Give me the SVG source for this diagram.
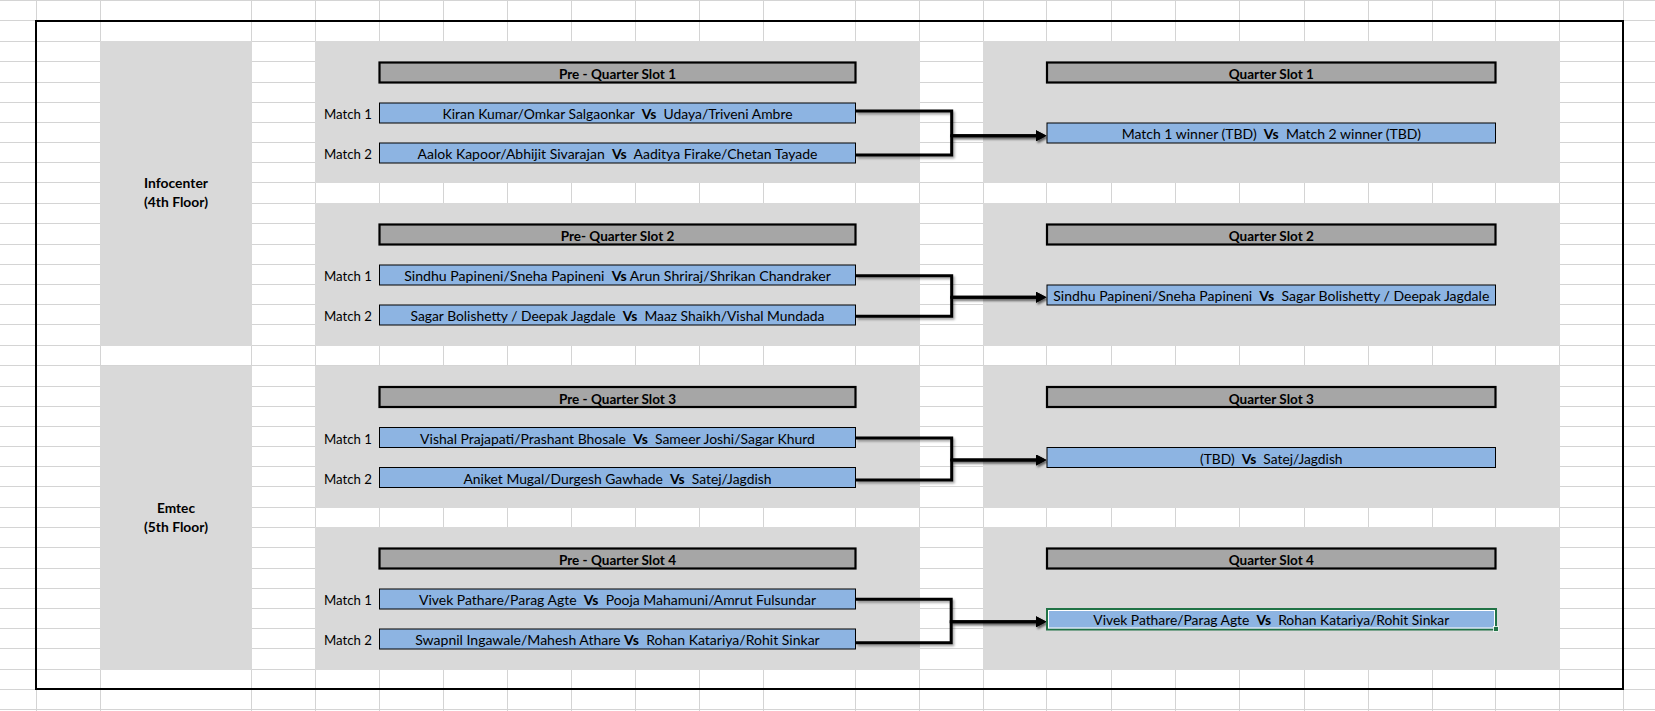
<svg xmlns="http://www.w3.org/2000/svg" width="1655" height="711" viewBox="0 0 1655 711">
<style>
.t{font-family:Lato,'Liberation Sans',sans-serif;font-size:14px;fill:#000;white-space:pre}
.c{text-anchor:middle}
.e{text-anchor:end}
.b{font-weight:bold}
.sec{fill:#d9d9d9}
.hdr{fill:#a6a6a6;stroke:#000;stroke-width:2.2}
.mb{fill:#8db4e2;stroke:#000;stroke-width:1}
.grid{fill:none;stroke:#d4d4d4;stroke-width:1;shape-rendering:crispEdges}
.conn{fill:none;stroke:#000;stroke-width:3;stroke-linejoin:miter;filter:url(#sh)}
</style>
<defs>
<filter id="sh" x="-10%" y="-50%" width="120%" height="200%">
<feDropShadow dx="1.5" dy="2" stdDeviation="1.2" flood-color="#000" flood-opacity="0.35"/>
</filter>
<marker id="arr" markerUnits="userSpaceOnUse" markerWidth="11" markerHeight="11" refX="1" refY="5.5" orient="auto">
<path d="M0,0 L10.5,5.5 L0,11 z" fill="#000"/>
</marker>
</defs>
<rect width="1655" height="711" fill="#fff"/>
<g id="grid">
<path class="grid" d="M0,0.5H1655M0,20.5H1655M0,41.5H1655M0,61.5H1655M0,82.5H1655M0,102.5H1655M0,122.5H1655M0,142.5H1655M0,162.5H1655M0,182.5H1655M0,203.5H1655M0,223.5H1655M0,244.5H1655M0,264.5H1655M0,284.5H1655M0,304.5H1655M0,324.5H1655M0,345.5H1655M0,365.5H1655M0,386.5H1655M0,406.5H1655M0,426.5H1655M0,446.5H1655M0,466.5H1655M0,486.5H1655M0,507.5H1655M0,527.5H1655M0,547.5H1655M0,568.5H1655M0,588.5H1655M0,608.5H1655M0,628.5H1655M0,648.5H1655M0,669.5H1655M0,689.5H1655M0,709.5H1655"/>
<path class="grid" d="M36.5,0V711M100.5,0V711M251.5,0V711M315.5,0V711M379.5,0V711M443.5,0V711M507.5,0V711M571.5,0V711M635.5,0V711M699.5,0V711M763.5,0V711M855.5,0V711M919.5,0V711M983.5,0V711M1046.5,0V711M1111.5,0V711M1175.5,0V711M1239.5,0V711M1304.5,0V711M1368.5,0V711M1432.5,0V711M1495.5,0V711M1559.5,0V711M1623.5,0V711"/>
</g>
<g id="sections">
<rect class="sec" x="100" y="41" width="152" height="305"/>
<rect class="sec" x="100" y="366" width="152" height="304"/>
<rect class="sec" x="315" y="41" width="605" height="142"/>
<rect class="sec" x="315" y="203" width="605" height="143"/>
<rect class="sec" x="315" y="366" width="605" height="142"/>
<rect class="sec" x="315" y="527" width="605" height="143"/>
<rect class="sec" x="983" y="41" width="577" height="142"/>
<rect class="sec" x="983" y="203" width="577" height="143"/>
<rect class="sec" x="983" y="366" width="577" height="142"/>
<rect class="sec" x="983" y="527" width="577" height="143"/>
</g>
<rect x="36" y="21" width="1587" height="668" fill="none" stroke="#000" stroke-width="2"/>
<g id="venue-infocenter">
<text class="t c b" x="176" y="188" textLength="64" lengthAdjust="spacingAndGlyphs">Infocenter</text>
<text class="t c b" x="176" y="207" textLength="64" lengthAdjust="spacingAndGlyphs">(4th Floor)</text>
</g>
<g id="venue-emtec">
<text class="t c b" x="176" y="512.5" textLength="38" lengthAdjust="spacingAndGlyphs">Emtec</text>
<text class="t c b" x="176" y="531.5" textLength="64" lengthAdjust="spacingAndGlyphs">(5th Floor)</text>
</g>

<g id="connectors">
<path class="conn" d="M856,111H951.7V135.7H1037" marker-end="url(#arr)"/>
<path class="conn" d="M856,155H951.7V135.7H1037" marker-end="url(#arr)"/>
<path class="conn" d="M856,275.7H951.7V297.3H1037" marker-end="url(#arr)"/>
<path class="conn" d="M856,316.3H951.7V297.3H1037" marker-end="url(#arr)"/>
<path class="conn" d="M856,438H951.7V460H1037" marker-end="url(#arr)"/>
<path class="conn" d="M856,480H951.7V460H1037" marker-end="url(#arr)"/>
<path class="conn" d="M856,599.3H951.2V621.7H1037" marker-end="url(#arr)"/>
<path class="conn" d="M856,642.7H951.2V621.7H1037" marker-end="url(#arr)"/>
</g>

<g id="pq1-header"><rect class="hdr" x="379.5" y="62.5" width="476" height="20"/><text class="t c b" x="617.5" y="79" textLength="117" lengthAdjust="spacingAndGlyphs">Pre - Quarter Slot 1</text></g>
<g id="pq1-m1"><text class="t e" x="372" y="119" textLength="48" lengthAdjust="spacingAndGlyphs">Match 1</text><rect class="mb" x="379.5" y="103" width="476" height="20"/><text class="t c" x="617.5" y="119" textLength="350" lengthAdjust="spacingAndGlyphs">Kiran Kumar/Omkar Salgaonkar  <tspan class="b">Vs</tspan>  Udaya/Triveni Ambre</text></g>
<g id="pq1-m2"><text class="t e" x="372" y="159" textLength="48" lengthAdjust="spacingAndGlyphs">Match 2</text><rect class="mb" x="379.5" y="143" width="476" height="20"/><text class="t c" x="617.5" y="159" textLength="400" lengthAdjust="spacingAndGlyphs">Aalok Kapoor/Abhijit Sivarajan  <tspan class="b">Vs</tspan>  Aaditya Firake/Chetan Tayade</text></g>
<g id="q1-header"><rect class="hdr" x="1047" y="62.5" width="448.5" height="20"/><text class="t c b" x="1271.3" y="79" textLength="85" lengthAdjust="spacingAndGlyphs">Quarter Slot 1</text></g>
<g id="q1-match"><rect class="mb" x="1047" y="123" width="448.5" height="20"/><text class="t c" x="1271.3" y="139">Match 1 winner (TBD)  <tspan class="b">Vs</tspan>  Match 2 winner (TBD)</text></g>

<g id="pq2-header"><rect class="hdr" x="379.5" y="224.5" width="476" height="20"/><text class="t c b" x="617.5" y="241" textLength="113.6" lengthAdjust="spacingAndGlyphs">Pre- Quarter Slot 2</text></g>
<g id="pq2-m1"><text class="t e" x="372" y="281" textLength="48" lengthAdjust="spacingAndGlyphs">Match 1</text><rect class="mb" x="379.5" y="265" width="476" height="20"/><text class="t c" x="617.5" y="281" textLength="426.7" lengthAdjust="spacingAndGlyphs">Sindhu Papineni/Sneha Papineni  <tspan class="b">Vs</tspan> Arun Shriraj/Shrikan Chandraker</text></g>
<g id="pq2-m2"><text class="t e" x="372" y="321" textLength="48" lengthAdjust="spacingAndGlyphs">Match 2</text><rect class="mb" x="379.5" y="305" width="476" height="20"/><text class="t c" x="617.5" y="321" textLength="414" lengthAdjust="spacingAndGlyphs">Sagar Bolishetty / Deepak Jagdale  <tspan class="b">Vs</tspan>  Maaz Shaikh/Vishal Mundada</text></g>
<g id="q2-header"><rect class="hdr" x="1047" y="224.5" width="448.5" height="20"/><text class="t c b" x="1271.3" y="241" textLength="85" lengthAdjust="spacingAndGlyphs">Quarter Slot 2</text></g>
<g id="q2-match"><rect class="mb" x="1047" y="285" width="448.5" height="20"/><text class="t c" x="1271.3" y="301" textLength="436" lengthAdjust="spacingAndGlyphs">Sindhu Papineni/Sneha Papineni  <tspan class="b">Vs</tspan>  Sagar Bolishetty / Deepak Jagdale</text></g>

<g id="pq3-header"><rect class="hdr" x="379.5" y="387" width="476" height="20"/><text class="t c b" x="617.5" y="403.5" textLength="117" lengthAdjust="spacingAndGlyphs">Pre - Quarter Slot 3</text></g>
<g id="pq3-m1"><text class="t e" x="372" y="443.5" textLength="48" lengthAdjust="spacingAndGlyphs">Match 1</text><rect class="mb" x="379.5" y="427.5" width="476" height="20"/><text class="t c" x="617.5" y="443.5" textLength="394.8" lengthAdjust="spacingAndGlyphs">Vishal Prajapati/Prashant Bhosale  <tspan class="b">Vs</tspan>  Sameer Joshi/Sagar Khurd</text></g>
<g id="pq3-m2"><text class="t e" x="372" y="483.5" textLength="48" lengthAdjust="spacingAndGlyphs">Match 2</text><rect class="mb" x="379.5" y="467.5" width="476" height="20"/><text class="t c" x="617.5" y="483.5" textLength="308" lengthAdjust="spacingAndGlyphs">Aniket Mugal/Durgesh Gawhade  <tspan class="b">Vs</tspan>  Satej/Jagdish</text></g>
<g id="q3-header"><rect class="hdr" x="1047" y="387" width="448.5" height="20"/><text class="t c b" x="1271.3" y="403.5" textLength="85" lengthAdjust="spacingAndGlyphs">Quarter Slot 3</text></g>
<g id="q3-match"><rect class="mb" x="1047" y="447.5" width="448.5" height="20"/><text class="t c" x="1271.3" y="463.5" textLength="142.5" lengthAdjust="spacingAndGlyphs">(TBD)  <tspan class="b">Vs</tspan>  Satej/Jagdish</text></g>

<g id="pq4-header"><rect class="hdr" x="379.5" y="548.5" width="476" height="20"/><text class="t c b" x="617.5" y="565" textLength="117" lengthAdjust="spacingAndGlyphs">Pre - Quarter Slot 4</text></g>
<g id="pq4-m1"><text class="t e" x="372" y="605" textLength="48" lengthAdjust="spacingAndGlyphs">Match 1</text><rect class="mb" x="379.5" y="589" width="476" height="20"/><text class="t c" x="617.5" y="605" textLength="397" lengthAdjust="spacingAndGlyphs">Vivek Pathare/Parag Agte  <tspan class="b">Vs</tspan>  Pooja Mahamuni/Amrut Fulsundar</text></g>
<g id="pq4-m2"><text class="t e" x="372" y="645" textLength="48" lengthAdjust="spacingAndGlyphs">Match 2</text><rect class="mb" x="379.5" y="629" width="476" height="20"/><text class="t c" x="617.5" y="645" textLength="404.5" lengthAdjust="spacingAndGlyphs">Swapnil Ingawale/Mahesh Athare <tspan class="b">Vs</tspan>  Rohan Katariya/Rohit Sinkar</text></g>
<g id="q4-header"><rect class="hdr" x="1047" y="548.5" width="448.5" height="20"/><text class="t c b" x="1271.3" y="565" textLength="85" lengthAdjust="spacingAndGlyphs">Quarter Slot 4</text></g>
<g id="q4-match"><rect x="1047" y="609" width="449" height="20.5" fill="#8db4e2" stroke="#217346" stroke-width="2"/><rect x="1048.5" y="610.5" width="446" height="17.5" fill="none" stroke="#fff" stroke-width="1"/><rect x="1493.5" y="626.5" width="5" height="5" fill="#217346" stroke="#fff" stroke-width="0.8"/><text class="t c" x="1271.3" y="625" textLength="356" lengthAdjust="spacingAndGlyphs">Vivek Pathare/Parag Agte  <tspan class="b">Vs</tspan>  Rohan Katariya/Rohit Sinkar</text></g>
</svg>
